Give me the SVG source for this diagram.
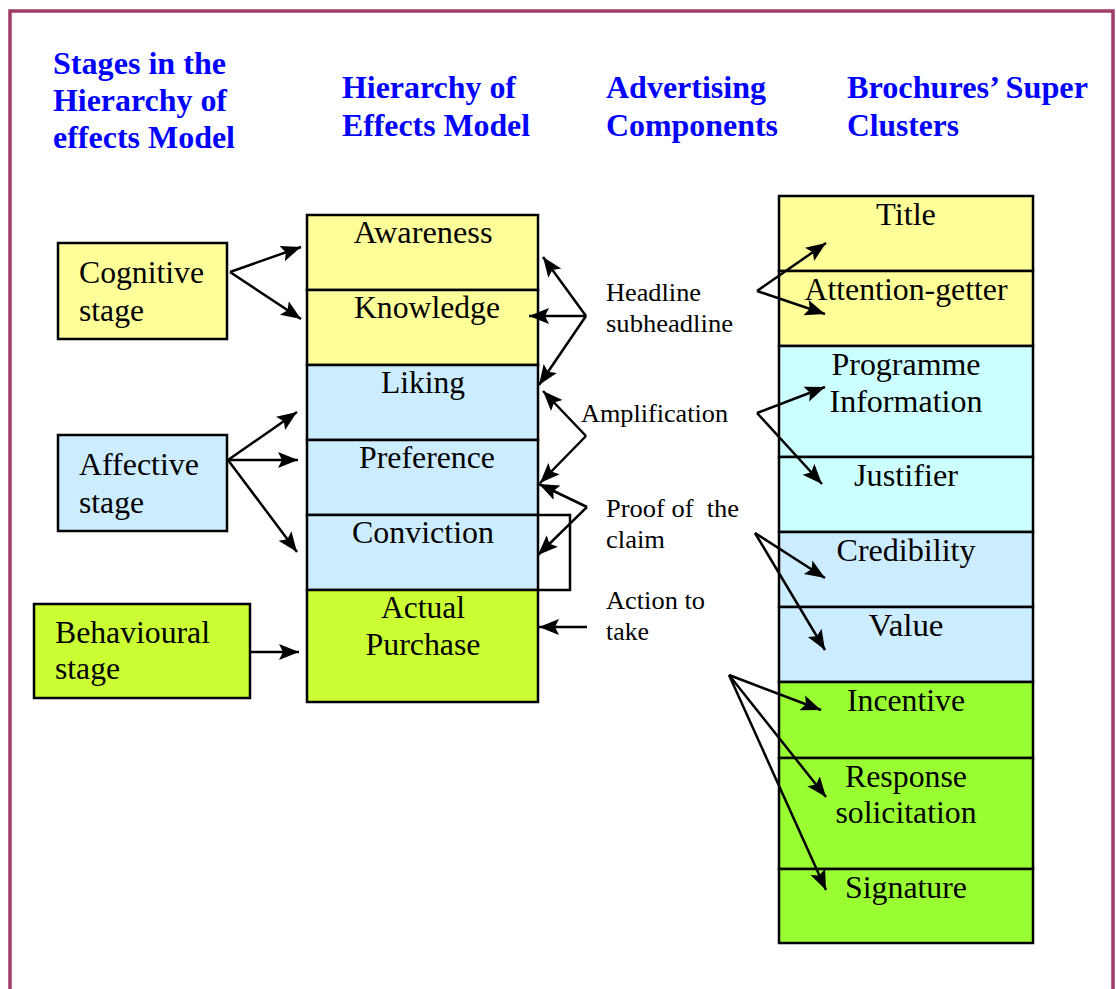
<svg xmlns="http://www.w3.org/2000/svg" width="1116" height="989" viewBox="0 0 1116 989">
  <style>
    .head { font-family: "Liberation Serif", "Times New Roman", serif; font-weight: bold; font-size: 32px; fill: #0000FF; }
    .box { stroke: #000; stroke-width: 2.5; }
    .t { font-family: "Liberation Serif", "Times New Roman", serif; font-size: 31px; fill: #000; }
    .c { text-anchor: middle; }
    .lbl { font-family: "Liberation Serif", "Times New Roman", serif; font-size: 25px; fill: #000; }
    .yel { fill: #FFFF99; }
    .blu { fill: #CCECFF; }
    .cya { fill: #CCFFFF; }
    .lim { fill: #CCFF33; }
    .grn { fill: #99FF33; }
    .conn path { fill: none; stroke: #000; stroke-width: 2.5; marker-end: url(#ah); }
  </style>
  <defs>
    <marker id="ah" markerUnits="userSpaceOnUse" markerWidth="24" markerHeight="20" refX="20" refY="10" orient="auto">
      <path d="M0,2 L20,10 L0,18 L4,10 Z" fill="#000"/>
    </marker>
  </defs>

  <rect width="1116" height="989" fill="#fff"/>
  <!-- page frame -->
  <rect x="10" y="11" width="1103" height="1000" fill="none" stroke="#A03C68" stroke-width="3.5"/>

  <!-- column headings -->
  <g id="headings" class="head">
    <text x="53" y="74" textLength="173" lengthAdjust="spacingAndGlyphs">Stages in the</text>
    <text x="53" y="111" textLength="174" lengthAdjust="spacingAndGlyphs">Hierarchy of</text>
    <text x="53" y="148" textLength="182" lengthAdjust="spacingAndGlyphs">effects Model</text>
    <text x="342" y="98" textLength="174" lengthAdjust="spacingAndGlyphs">Hierarchy of</text>
    <text x="342" y="136" textLength="188" lengthAdjust="spacingAndGlyphs">Effects Model</text>
    <text x="606" y="98" textLength="160" lengthAdjust="spacingAndGlyphs">Advertising</text>
    <text x="606" y="136" textLength="172" lengthAdjust="spacingAndGlyphs">Components</text>
    <text x="847" y="98" textLength="241" lengthAdjust="spacingAndGlyphs">Brochures’ Super</text>
    <text x="847" y="136" textLength="112" lengthAdjust="spacingAndGlyphs">Clusters</text>
  </g>

  <!-- stage boxes -->
  <g id="cognitive">
    <rect class="box yel" x="58" y="243" width="169" height="96"/>
    <text class="t" x="79" y="283" textLength="125" lengthAdjust="spacingAndGlyphs">Cognitive</text>
    <text class="t" x="79" y="321" textLength="65" lengthAdjust="spacingAndGlyphs">stage</text>
  </g>
  <g id="affective">
    <rect class="box blu" x="58" y="435" width="169" height="96"/>
    <text class="t" x="79" y="475" textLength="120" lengthAdjust="spacingAndGlyphs">Affective</text>
    <text class="t" x="79" y="513" textLength="65" lengthAdjust="spacingAndGlyphs">stage</text>
  </g>
  <g id="behavioural">
    <rect class="box lim" x="34" y="604" width="216" height="94"/>
    <text class="t" x="55" y="643" textLength="155" lengthAdjust="spacingAndGlyphs">Behavioural</text>
    <text class="t" x="55" y="679" textLength="65" lengthAdjust="spacingAndGlyphs">stage</text>
  </g>

  <!-- hierarchy of effects column -->
  <g id="awareness">
    <rect class="box yel" x="307" y="215" width="231" height="75"/>
    <text class="t c" x="423" y="243" textLength="139" lengthAdjust="spacingAndGlyphs">Awareness</text>
  </g>
  <g id="knowledge">
    <rect class="box yel" x="307" y="290" width="231" height="75"/>
    <text class="t c" x="427" y="318" textLength="146" lengthAdjust="spacingAndGlyphs">Knowledge</text>
  </g>
  <g id="liking">
    <rect class="box blu" x="307" y="365" width="231" height="75"/>
    <text class="t c" x="423" y="393" textLength="84" lengthAdjust="spacingAndGlyphs">Liking</text>
  </g>
  <g id="preference">
    <rect class="box blu" x="307" y="440" width="231" height="75"/>
    <text class="t c" x="427" y="468" textLength="136" lengthAdjust="spacingAndGlyphs">Preference</text>
  </g>
  <g id="conviction">
    <rect class="box blu" x="307" y="515" width="231" height="75"/>
    <polyline points="538,515 570,515 570,590 538,590" fill="none" stroke="#000" stroke-width="2.5"/>
    <text class="t c" x="423" y="543" textLength="142" lengthAdjust="spacingAndGlyphs">Conviction</text>
  </g>
  <g id="purchase">
    <rect class="box lim" x="307" y="590" width="231" height="112"/>
    <text class="t c" x="423" y="618" textLength="84" lengthAdjust="spacingAndGlyphs">Actual</text>
    <text class="t c" x="423" y="655" textLength="115" lengthAdjust="spacingAndGlyphs">Purchase</text>
  </g>

  <!-- advertising component labels -->
  <g id="components" class="lbl">
    <text x="606" y="301" textLength="95" lengthAdjust="spacingAndGlyphs">Headline</text>
    <text x="606" y="332" textLength="127" lengthAdjust="spacingAndGlyphs">subheadline</text>
    <text x="581" y="422" textLength="147" lengthAdjust="spacingAndGlyphs">Amplification</text>
    <text x="606" y="517" textLength="133" lengthAdjust="spacingAndGlyphs" xml:space="preserve">Proof of  the</text>
    <text x="606" y="548" textLength="59" lengthAdjust="spacingAndGlyphs">claim</text>
    <text x="606" y="609" textLength="99" lengthAdjust="spacingAndGlyphs">Action to</text>
    <text x="606" y="640" textLength="43" lengthAdjust="spacingAndGlyphs">take</text>
  </g>

  <!-- brochure super clusters column -->
  <g id="title">
    <rect class="box yel" x="779" y="196" width="254" height="75"/>
    <text class="t c" x="906" y="225" textLength="60" lengthAdjust="spacingAndGlyphs">Title</text>
  </g>
  <g id="attention">
    <rect class="box yel" x="779" y="271" width="254" height="75"/>
    <text class="t c" x="906" y="300" textLength="203" lengthAdjust="spacingAndGlyphs">Attention-getter</text>
  </g>
  <g id="programme">
    <rect class="box cya" x="779" y="346" width="254" height="111"/>
    <text class="t c" x="906" y="375" textLength="149" lengthAdjust="spacingAndGlyphs">Programme</text>
    <text class="t c" x="906" y="412" textLength="153" lengthAdjust="spacingAndGlyphs">Information</text>
  </g>
  <g id="justifier">
    <rect class="box cya" x="779" y="457" width="254" height="75"/>
    <text class="t c" x="906" y="486" textLength="104" lengthAdjust="spacingAndGlyphs">Justifier</text>
  </g>
  <g id="credibility">
    <rect class="box blu" x="779" y="532" width="254" height="75"/>
    <text class="t c" x="906" y="561" textLength="139" lengthAdjust="spacingAndGlyphs">Credibility</text>
  </g>
  <g id="value">
    <rect class="box blu" x="779" y="607" width="254" height="75"/>
    <text class="t c" x="906" y="636" textLength="75" lengthAdjust="spacingAndGlyphs">Value</text>
  </g>
  <g id="incentive">
    <rect class="box grn" x="779" y="682" width="254" height="76"/>
    <text class="t c" x="906" y="711" textLength="118" lengthAdjust="spacingAndGlyphs">Incentive</text>
  </g>
  <g id="response">
    <rect class="box grn" x="779" y="758" width="254" height="111"/>
    <text class="t c" x="906" y="787" textLength="122" lengthAdjust="spacingAndGlyphs">Response</text>
    <text class="t c" x="906" y="823" textLength="141" lengthAdjust="spacingAndGlyphs">solicitation</text>
  </g>
  <g id="signature">
    <rect class="box grn" x="779" y="869" width="254" height="74"/>
    <text class="t c" x="906" y="898" textLength="122" lengthAdjust="spacingAndGlyphs">Signature</text>
  </g>

  <!-- connectors -->
  <g id="connectors" class="conn">
    <!-- stages to hierarchy -->
    <path d="M230,272 L301,247"/>
    <path d="M230,272 L301,319"/>
    <path d="M228,460 L297,412"/>
    <path d="M228,460 L298,460"/>
    <path d="M228,460 L297,552"/>
    <path d="M250,652 L299,652"/>
    <!-- headline / subheadline -->
    <path d="M586,316 L543,257"/>
    <path d="M586,316 L529,316"/>
    <path d="M586,316 L539,385"/>
    <path d="M757,291 L826,243"/>
    <path d="M757,291 L825,314"/>
    <!-- amplification -->
    <path d="M586,436 L543,391"/>
    <path d="M586,436 L540,483"/>
    <path d="M757,413 L825,387"/>
    <path d="M757,413 L822,484"/>
    <!-- proof of the claim -->
    <path d="M587,507 L539,484"/>
    <path d="M587,507 L538,555"/>
    <path d="M755,533 L825,578"/>
    <path d="M755,533 L825,650"/>
    <!-- action to take -->
    <path d="M587,627 L539,627"/>
    <path d="M729,675 L821,710"/>
    <path d="M729,675 L826,797"/>
    <path d="M729,675 L826,890"/>
  </g>
</svg>
